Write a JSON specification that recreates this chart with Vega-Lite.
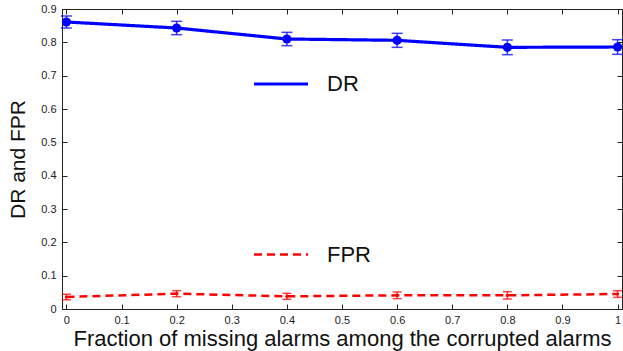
{
  "$schema": "https://vega.github.io/schema/vega-lite/v6.json",
  "width": 560,
  "height": 300,
  "autosize": "none",
  "padding": {"left": 62, "top": 9, "right": 1, "bottom": 42},
  "background": "white",
  "config": {
    "font": "Liberation Sans",
    "view": {"stroke": "#222", "strokeWidth": 1},
    "axis": {
      "grid": false,
      "domainColor": "#222",
      "tickColor": "#222",
      "tickSize": -5,
      "labelFontSize": 11,
      "labelColor": "#222",
      "titleFontSize": 22,
      "titleFontWeight": "normal",
      "titleColor": "#111"
    }
  },
  "data": {
    "values": [
      {"x": 0.0, "v": 0.861, "lo": 0.843, "hi": 0.879, "s": "DR"},
      {"x": 0.2, "v": 0.843, "lo": 0.823, "hi": 0.863, "s": "DR"},
      {"x": 0.4, "v": 0.810, "lo": 0.790, "hi": 0.830, "s": "DR"},
      {"x": 0.6, "v": 0.806, "lo": 0.785, "hi": 0.827, "s": "DR"},
      {"x": 0.8, "v": 0.785, "lo": 0.763, "hi": 0.807, "s": "DR"},
      {"x": 1.0, "v": 0.786, "lo": 0.764, "hi": 0.808, "s": "DR"},
      {"x": 0.0, "v": 0.036, "lo": 0.028, "hi": 0.044, "s": "FPR"},
      {"x": 0.2, "v": 0.046, "lo": 0.037, "hi": 0.055, "s": "FPR"},
      {"x": 0.4, "v": 0.038, "lo": 0.029, "hi": 0.047, "s": "FPR"},
      {"x": 0.6, "v": 0.041, "lo": 0.031, "hi": 0.051, "s": "FPR"},
      {"x": 0.8, "v": 0.041, "lo": 0.030, "hi": 0.052, "s": "FPR"},
      {"x": 1.0, "v": 0.045, "lo": 0.035, "hi": 0.055, "s": "FPR"}
    ]
  },
  "resolve": {"axis": {"x": "independent", "y": "independent"}},
  "layer": [
    {
      "mark": {"type": "line"},
      "encoding": {
        "x": {
          "field": "x", "type": "quantitative",
          "scale": {"domain": [-0.008, 1.008], "nice": false, "zero": false},
          "axis": {
            "values": [0, 0.1, 0.2, 0.3, 0.4, 0.5, 0.6, 0.7, 0.8, 0.9, 1],
            "format": "~g",
            "labelPadding": 10,
            "title": "Fraction of missing alarms among the corrupted alarms",
            "titlePadding": 3
          }
        },
        "y": {
          "field": "v", "type": "quantitative",
          "scale": {"domain": [0, 0.9], "nice": false},
          "axis": {
            "values": [0, 0.1, 0.2, 0.3, 0.4, 0.5, 0.6, 0.7, 0.8, 0.9],
            "format": "~g",
            "labelPadding": 11,
            "title": "DR and FPR",
            "titleFontSize": 21,
            "titlePadding": 12
          }
        },
        "color": {
          "field": "s", "type": "nominal",
          "scale": {"domain": ["DR", "FPR"], "range": ["#0000ff", "#ff0000"]},
          "legend": {
            "orient": "none", "legendX": 190, "legendY": 46, "title": null,
            "symbolType": "stroke", "symbolSize": 2916, "symbolStrokeWidth": 3,
            "labelFontSize": 22, "labelOffset": 17, "rowPadding": 131, "padding": 0,
            "labelColor": "#111"
          }
        },
        "strokeDash": {
          "field": "s", "type": "nominal",
          "scale": {"domain": ["DR", "FPR"], "range": [[1, 0], [8, 5]]},
          "legend": {
            "orient": "none", "legendX": 190, "legendY": 46, "title": null,
            "symbolType": "stroke", "symbolSize": 2916, "symbolStrokeWidth": 3,
            "labelFontSize": 22, "labelOffset": 17, "rowPadding": 131, "padding": 0,
            "labelColor": "#111"
          }
        },
        "strokeWidth": {
          "field": "s", "type": "nominal",
          "scale": {"domain": ["DR", "FPR"], "range": [3.2, 2.5]},
          "legend": null
        }
      }
    },
    {
      "mark": {"type": "rule", "strokeWidth": 1.5, "opacity": 0.75},
      "encoding": {
        "x": {"field": "x", "type": "quantitative", "axis": null},
        "y": {"field": "lo", "type": "quantitative", "axis": null},
        "y2": {"field": "hi"},
        "color": {"condition": {"test": "datum.s === 'DR'", "value": "#0000ff"}, "value": "#ff0000"}
      }
    },
    {
      "mark": {"type": "tick", "orient": "horizontal", "thickness": 1.5, "opacity": 0.75},
      "encoding": {
        "x": {"field": "x", "type": "quantitative", "axis": null},
        "y": {"field": "lo", "type": "quantitative", "axis": null},
        "color": {"condition": {"test": "datum.s === 'DR'", "value": "#0000ff"}, "value": "#ff0000"},
        "size": {"condition": {"test": "datum.s === 'DR'", "value": 11}, "value": 9}
      }
    },
    {
      "mark": {"type": "tick", "orient": "horizontal", "thickness": 1.5, "opacity": 0.75},
      "encoding": {
        "x": {"field": "x", "type": "quantitative", "axis": null},
        "y": {"field": "hi", "type": "quantitative", "axis": null},
        "color": {"condition": {"test": "datum.s === 'DR'", "value": "#0000ff"}, "value": "#ff0000"},
        "size": {"condition": {"test": "datum.s === 'DR'", "value": 11}, "value": 9}
      }
    },
    {
      "mark": {"type": "point", "filled": true, "opacity": 1, "shape": "circle"},
      "encoding": {
        "x": {
          "field": "x", "type": "quantitative",
          "axis": {"orient": "top", "values": [0, 0.1, 0.2, 0.3, 0.4, 0.5, 0.6, 0.7, 0.8, 0.9, 1], "labels": false, "title": null, "domain": false}
        },
        "y": {
          "field": "v", "type": "quantitative",
          "axis": {"orient": "right", "values": [0, 0.1, 0.2, 0.3, 0.4, 0.5, 0.6, 0.7, 0.8, 0.9], "labels": false, "title": null, "domain": false}
        },
        "color": {"condition": {"test": "datum.s === 'DR'", "value": "#0000ff"}, "value": "#ff0000"},
        "size": {"condition": {"test": "datum.s === 'DR'", "value": 85}, "value": 10}
      }
    }
  ]
}
